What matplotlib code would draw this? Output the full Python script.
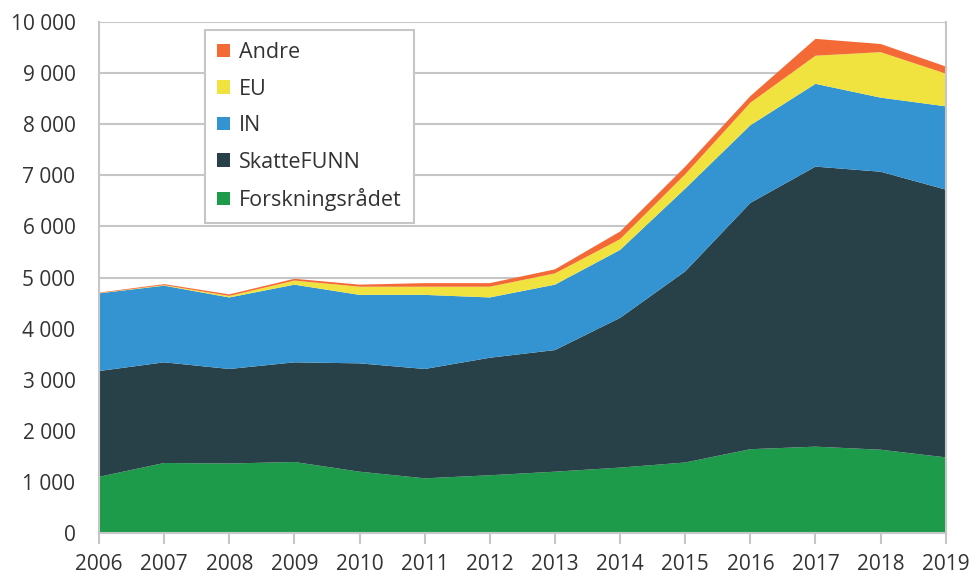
import matplotlib.pyplot as plt
from matplotlib.ticker import FuncFormatter

plt.rcParams["font.family"] = ["Open Sans", "DejaVu Sans"]

years = list(range(2006, 2020))
forskningsradet = [1100, 1370, 1360, 1390, 1200, 1070, 1130, 1200, 1280, 1380, 1640, 1690, 1630, 1480]
skattefunn = [2070, 1970, 1850, 1950, 2120, 2140, 2300, 2380, 2930, 3740, 4820, 5480, 5440, 5240]
innovasjon = [1520, 1500, 1400, 1520, 1340, 1450, 1180, 1280, 1330, 1620, 1520, 1620, 1450, 1630]
eu = [5, 10, 30, 80, 160, 160, 210, 220, 210, 280, 440, 550, 890, 640]
andre = [10, 20, 30, 35, 40, 70, 70, 80, 150, 150, 130, 330, 160, 140]

labels = ["Forskningsrådet", "SkatteFUNN", "IN", "EU", "Andre"]
colors = ["#1d9b4a", "#284148", "#3394d1", "#f0e340", "#f46a36"]

GRID = "#c6c6c6"
TEXT = "#333333"

fig = plt.figure(figsize=(9.71, 5.73), dpi=100)
ax = fig.add_axes([0.102, 0.0698, 0.872, 0.8918])

ax.stackplot(years, forskningsradet, skattefunn, innovasjon, eu, andre,
             colors=colors, labels=labels, linewidth=0, zorder=2)

ax.set_xlim(2006, 2019)
ax.set_ylim(0, 10000)
ax.set_xticks(years)
ax.set_yticks(range(0, 10001, 1000))
ax.yaxis.set_major_formatter(FuncFormatter(lambda v, p: f"{int(v):,}".replace(",", " ")))

ax.grid(axis="y", color=GRID, linewidth=1.5, zorder=0)
ax.set_axisbelow(True)
for side in ["left", "bottom", "right"]:
    ax.spines[side].set_color(GRID)
    ax.spines[side].set_linewidth(1.5)
ax.spines["top"].set_visible(False)
ax.spines["left"].set_zorder(3)
ax.spines["bottom"].set_zorder(3)

ax.tick_params(axis="x", colors=GRID, length=8, width=1.5, labelcolor=TEXT,
               labelsize=15, pad=7)
ax.tick_params(axis="y", length=0, labelcolor=TEXT, labelsize=15, pad=17)

handles, labs = ax.get_legend_handles_labels()
leg = ax.legend(handles[::-1], labs[::-1], loc="upper left",
                bbox_to_anchor=(0.125, 0.984), fontsize=15.5, frameon=True,
                fancybox=False, framealpha=1, edgecolor=GRID,
                handlelength=0.6, handleheight=0.6, handletextpad=0.45,
                labelspacing=0.72, borderpad=0.55, borderaxespad=0)
leg.get_frame().set_linewidth(1.5)
for t in leg.get_texts():
    t.set_color(TEXT)

fig.savefig("out.png", dpi=100)
plt.close()
